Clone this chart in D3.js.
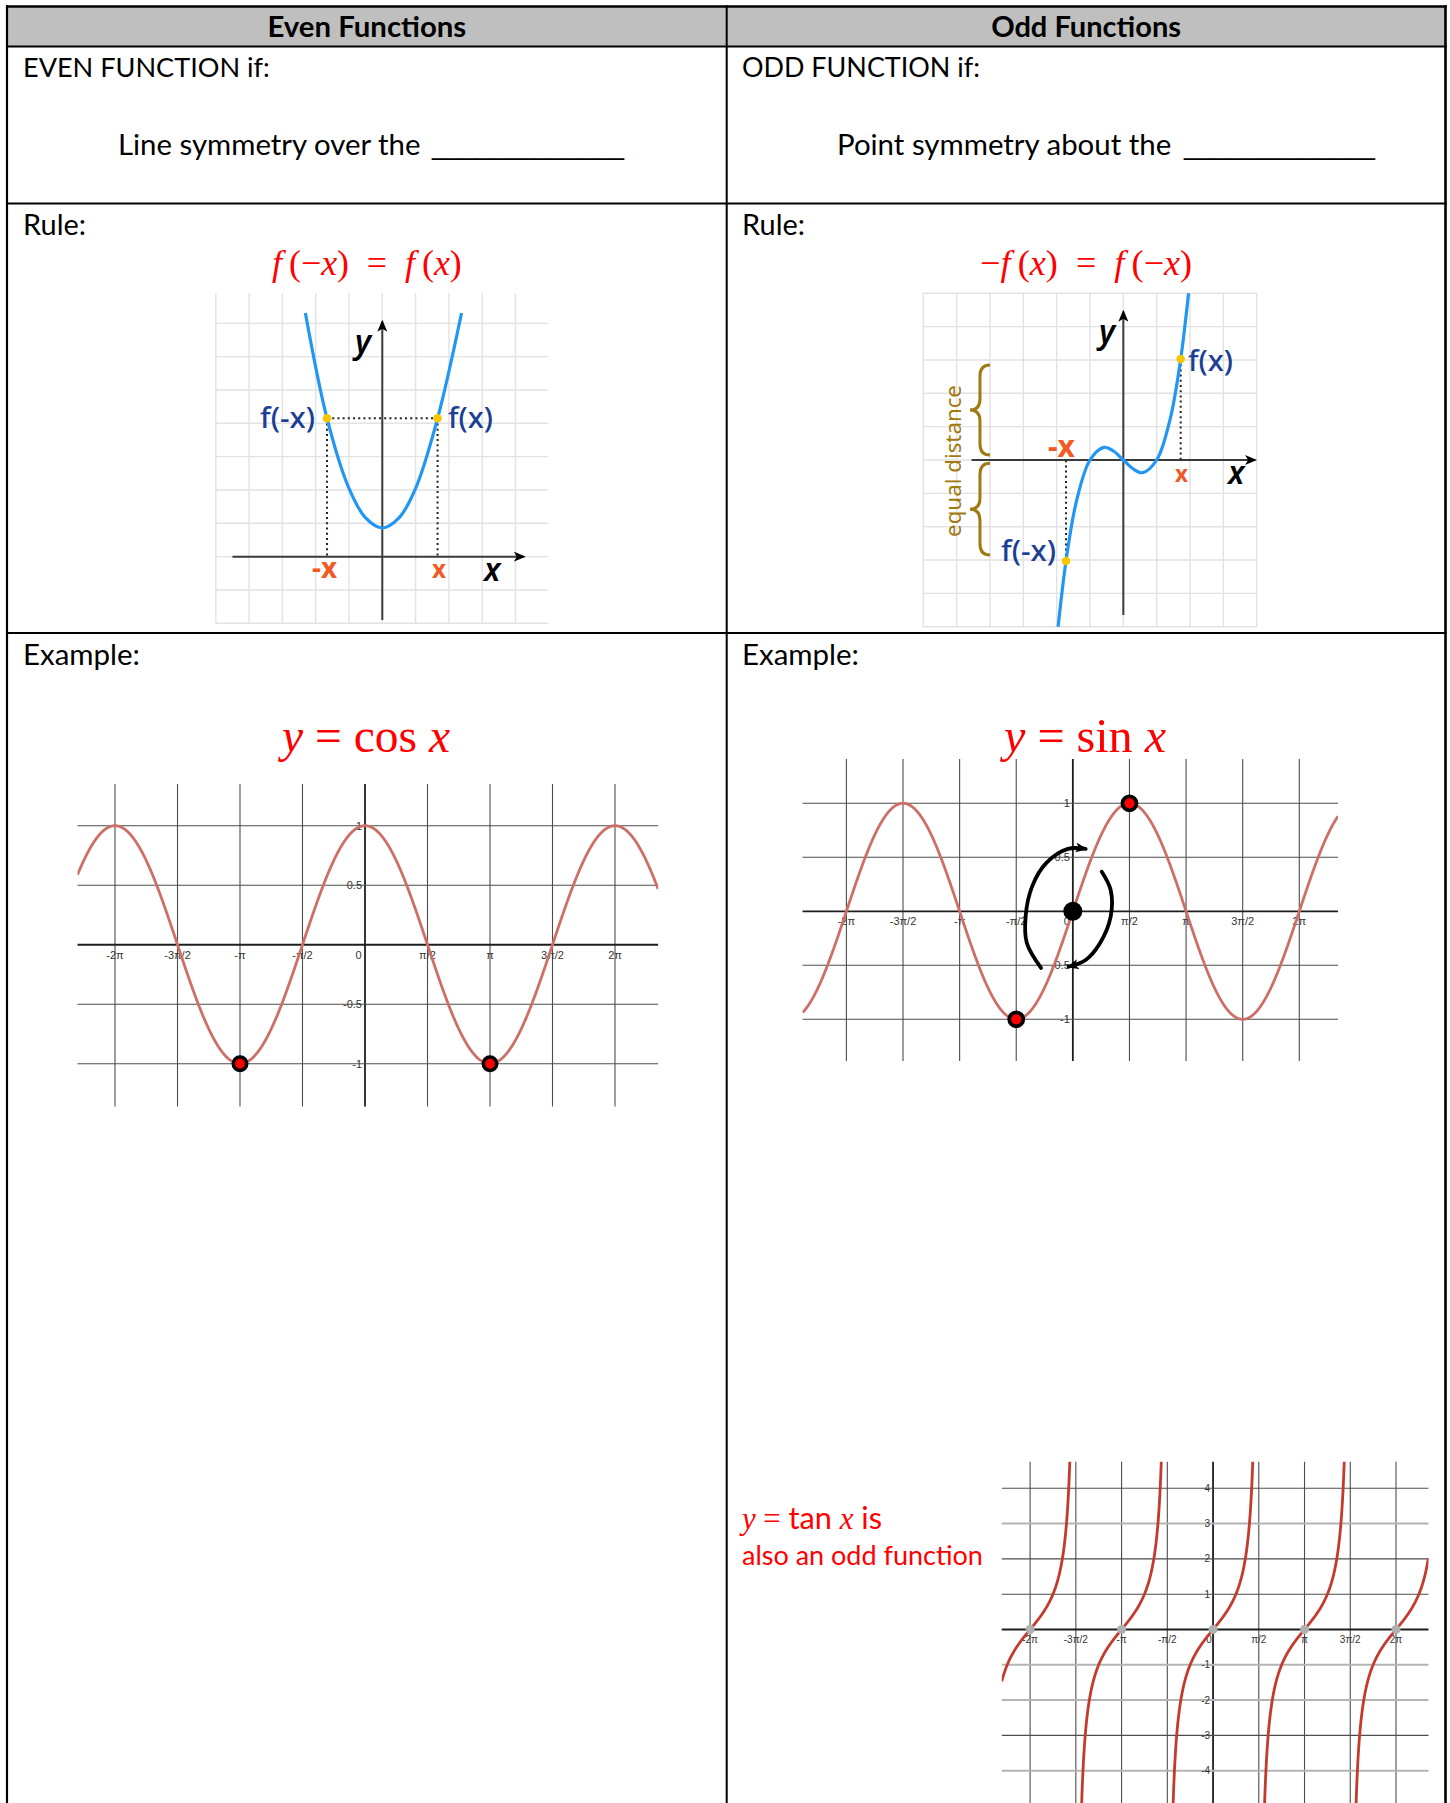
<!DOCTYPE html>
<html>
<head>
<meta charset="utf-8">
<script src="https://cdn.jsdelivr.net/npm/d3@7"></script>
<style>
  body { margin: 0; background: #fff; }
  svg { display: block; }
  text { white-space: pre; }
</style>
</head>
<body>
<div id="chart"></div>
<script>
// ---------- data ----------
const headers = ["Even Functions", "Odd Functions"];
const ifLines = ["EVEN FUNCTION if:", "ODD FUNCTION if:"];
const symmetryLines = ["Line symmetry over the ", "Point symmetry about the "];
const blank = "_____________";
const sectionLabels = ["Rule:", "Example:"];

// trig charts: x in units of π/2
const piTicks = [-4, -3, -2, -1, 0, 1, 2, 3, 4];
const piLabels = ["-2π", "-3π/2", "-π", "-π/2", "0", "π/2", "π", "3π/2", "2π"];
const halfTicks = [-1, -0.5, 0, 0.5, 1];
const halfLabels = ["-1", "-0.5", "0", "0.5", "1"];
const tanTicks = [-4, -3, -2, -1, 0, 1, 2, 3, 4];
const tanLabels = ["-4", "-3", "-2", "-1", "0", "1", "2", "3", "4"];
const tanFaint = [3, -1, -2, -4];
const tanZeros = [-4, -2, 0, 2, 4];
const cosMarks = [[-2, -1], [2, -1]];
const sinMarks = [[-1, -1], [1, 1]];
// rotation arrows round the origin of the sin chart
const spinLeft = [[-0.562, -0.524], [-0.813, -0.293], [-0.834, -0.046], [-0.719, 0.231], [-0.468, 0.448], [-0.088, 0.578], [0.226, 0.578]];
const spinRight = [[0.511, 0.367], [0.668, 0.197], [0.668, -0.05], [0.479, -0.296], [0.226, -0.451], [-0.076, -0.513]];

// rule sketches (grid units)
const parabola = [[-2.31, 7.31], [-1.66, 4.15], [-1, 2.05], [-0.5, 1.16], [0, 0.86], [0.5, 1.16], [1, 2.05], [1.66, 4.15], [2.38, 7.31]];
const parabolaMarks = [[-1.66, 4.15], [1.66, 4.15]];
const cubic = [[-2.05, -5.9], [-1.72, -3.03], [-1.4, -1.21], [-1, 0], [-0.58, 0.38], [-0.3, 0.27], [0, 0], [0.3, -0.27], [0.58, -0.38], [1, 0], [1.4, 1.21], [1.72, 3.03], [2.05, 5.9]];
const cubicMarks = [[-1.72, -3.03], [1.72, 3.03]];
const braces = [[0.15, 2.85], [-2.85, -0.1]];

// ---------- setup ----------
const W = 1450, H = 1803;
const bodyFont = "Lato, 'Open Sans', sans-serif";
const mathFont = "'Liberation Serif', 'DejaVu Serif', serif";
const sketchFont = "'Noto Sans', 'DejaVu Sans', sans-serif";
const tickFont = "'Liberation Sans', Arial, sans-serif";
const red = "#ff0000", navy = "#1c3f94", orange = "#f15a22", brown = "#a07a10";
const it = { "font-style": "italic" };
const thin = "\u2009";

const svg = d3.select("#chart").append("svg").attr("width", W).attr("height", H);
svg.append("rect").attr("width", W).attr("height", H).attr("fill", "#fff");

const defs = svg.append("defs");
defs.append("marker").attr("id", "arrow").attr("viewBox", "0 -5 12 10")
  .attr("refX", 10).attr("refY", 0).attr("markerWidth", 12).attr("markerHeight", 10)
  .attr("markerUnits", "userSpaceOnUse").attr("orient", "auto")
  .append("path").attr("d", "M0,-5L12,0L0,5L3,0Z").attr("fill", "#000");

// text helper: parts are [string, attrs]; optional fit to a width
function txt(parent, x, y, parts, o = {}) {
  const size = o.size || 28;
  const t = parent.append("text").attr("x", x).attr("y", y)
    .attr("font-family", o.family || bodyFont).attr("font-size", size)
    .attr("fill", o.fill || "#000").attr("text-anchor", o.anchor || "start");
  if (o.weight) t.attr("font-weight", o.weight);
  if (o.fstyle) t.attr("font-style", o.fstyle);
  if (o.transform) t.attr("transform", o.transform);
  parts.forEach(([s, st]) => {
    const ts = t.append("tspan").text(s);
    Object.entries(st || {}).forEach(([k, v]) => ts.attr(k, v));
  });
  if (o.width) {
    const len = t.node().getComputedTextLength();
    t.attr("font-size", size * o.width / len);
  }
  return t;
}

// ---------- table ----------
const tb = { left: 7, right: 1445.5, mid: 726.7, top: 6.5, head: 46.5, row1: 203.5, row2: 633 };
svg.append("rect").attr("x", tb.left).attr("y", tb.top)
  .attr("width", tb.right - tb.left).attr("height", tb.head - tb.top).attr("fill", "#bfbfbf");
const rules = svg.append("g").attr("stroke", "#000");
[[tb.top, 2.6], [tb.head, 2], [tb.row1, 2], [tb.row2, 2]].forEach(([y, w]) =>
  rules.append("line").attr("x1", tb.left - 1).attr("x2", tb.right + 1.2).attr("y1", y).attr("y2", y).attr("stroke-width", w));
[[tb.left, 2.2], [tb.mid, 2], [tb.right, 2.6]].forEach(([x, w]) =>
  rules.append("line").attr("x1", x).attr("x2", x).attr("y1", tb.top - 1.2).attr("y2", H).attr("stroke-width", w));

const colCenter = [(tb.left + tb.mid) / 2, (tb.mid + tb.right) / 2];
const colText = [23, 742];
const txtG = svg.append("g");

headers.forEach((h, i) => txt(txtG, colCenter[i], 37, [[h]], { weight: 700, anchor: "middle", width: [199, 190][i] }));
ifLines.forEach((s, i) => txt(txtG, colText[i], 77, [[s]], { width: [247, 238][i] }));
symmetryLines.forEach((s, i) => {
  txt(txtG, [118, 837][i], 155, [[s]], { width: [310, 342][i] });
  txt(txtG, [432, 1184][i], 155, [[blank]], { family: tickFont, size: 28, width: [192, 191][i] });
});
sectionLabels.forEach((s, r) => colText.forEach(x =>
  txt(txtG, x, [235, 665][r], [[s]], { width: [63, 117][r] })));

// rule formulas
txt(txtG, colCenter[0], 275, [["f", it], [thin + "(−"], ["x", it], [")  =  "], ["f", it], [thin + "("], ["x", it], [")"]],
  { family: mathFont, size: 30, fill: red, anchor: "middle", width: 190 });
txt(txtG, colCenter[1], 275, [["−"], ["f", it], [thin + "("], ["x", it], [")  =  "], ["f", it], [thin + "(−"], ["x", it], [")"]],
  { family: mathFont, size: 30, fill: red, anchor: "middle", width: 212 });

// example titles
txt(txtG, 366, 752, [["y", it], [" = cos "], ["x", it]], { family: mathFont, size: 44, fill: red, anchor: "middle", width: 168 });
txt(txtG, 1085, 752, [["y", it], [" = sin "], ["x", it]], { family: mathFont, size: 44, fill: red, anchor: "middle", width: 162 });
txt(txtG, 742, 1529, [["y", { "font-family": mathFont, "font-style": "italic" }], [" = ", { "font-family": mathFont }], ["tan "], ["x", { "font-family": mathFont, "font-style": "italic" }], [" is"]],
  { size: 27, fill: red, width: 140 });
txt(txtG, 742, 1565, [["also an odd function"]], { size: 27, fill: red, width: 241 });

// ---------- rule sketches ----------
function sketch(o) {
  const g = svg.append("g");
  const x = d3.scaleLinear().domain(o.xDomain).range(o.xRange);
  const y = d3.scaleLinear().domain(o.yDomain).range(o.yRange);
  const [ex0, ex1] = o.xExt, [ey0, ey1] = o.yExt;
  const clipId = o.id + "-clip";
  defs.append("clipPath").attr("id", clipId).append("rect")
    .attr("x", x(ex0)).attr("y", y(ey1)).attr("width", x(ex1) - x(ex0)).attr("height", y(ey0) - y(ey1));
  const grid = g.append("g").attr("stroke", "#e2e2e2").attr("stroke-width", 1.4);
  grid.selectAll("line.v").data(d3.range(Math.ceil(ex0), Math.floor(ex1) + 1)).join("line").attr("class", "v")
    .attr("x1", d => x(d)).attr("x2", d => x(d)).attr("y1", y(ey1)).attr("y2", y(ey0));
  grid.selectAll("line.h").data(d3.range(Math.ceil(ey0), Math.floor(ey1) + 1)).join("line").attr("class", "h")
    .attr("y1", d => y(d)).attr("y2", d => y(d)).attr("x1", x(ex0)).attr("x2", x(ex1));
  // axes
  const ax = g.append("g").attr("stroke", "#3a3a3a").attr("stroke-width", 2);
  ax.append("line").attr("x1", x(o.xAxis[0])).attr("x2", x(o.xAxis[1])).attr("y1", y(0)).attr("y2", y(0)).attr("marker-end", "url(#arrow)");
  ax.append("line").attr("x1", x(0)).attr("x2", x(0)).attr("y1", y(o.yAxis[0])).attr("y2", y(o.yAxis[1])).attr("marker-end", "url(#arrow)");
  return { g, x, y, clipId };
}

const line = (x, y) => d3.line().x(d => x(d[0])).y(d => y(d[1])).curve(d3.curveCatmullRom.alpha(0.5));
const axisLabel = { family: sketchFont, weight: 600, fstyle: "italic", size: 32 };

// even: parabola
{
  const { g, x, y, clipId } = sketch({ id: "even", xDomain: [-5, 5], xRange: [215.8, 548.8], yDomain: [-2, 8], yRange: [623.3, 290],
    xExt: [-5, 4.98], yExt: [-2, 7.9], xAxis: [-4.5, 4.25], yAxis: [-1.9, 7.05] });
  const dots = g.append("g").attr("stroke", "#222").attr("stroke-width", 2).attr("stroke-dasharray", "2,3.2");
  dots.append("line").attr("x1", x(parabolaMarks[0][0])).attr("x2", x(parabolaMarks[1][0]))
    .attr("y1", y(parabolaMarks[0][1])).attr("y2", y(parabolaMarks[0][1]));
  dots.selectAll("line.v").data(parabolaMarks).join("line").attr("class", "v")
    .attr("x1", d => x(d[0])).attr("x2", d => x(d[0])).attr("y1", d => y(d[1])).attr("y2", y(0));
  g.append("path").attr("clip-path", `url(#${clipId})`).attr("d", line(x, y)(parabola))
    .attr("fill", "none").attr("stroke", "#2196f3").attr("stroke-width", 3.2);
  g.selectAll("circle").data(parabolaMarks).join("circle")
    .attr("cx", d => x(d[0])).attr("cy", d => y(d[1])).attr("r", 4.3).attr("fill", "#f7c600");
  txt(g, 315, 428, [["f(-x)"]], { family: sketchFont, fill: navy, weight: 500, anchor: "end", width: 55 });
  txt(g, 448, 428, [["f(x)"]], { family: sketchFont, fill: navy, weight: 500, width: 45 });
  txt(g, 312, 578, [["-x"]], { family: sketchFont, fill: orange, weight: 700, width: 25 });
  txt(g, 432, 578, [["x"]], { family: sketchFont, fill: orange, weight: 700, width: 14 });
  txt(g, 355, 353, [["y"]], axisLabel);
  txt(g, 484, 581, [["x"]], axisLabel);
}

// odd: cubic
{
  const { g, x, y, clipId } = sketch({ id: "odd", xDomain: [-6, 4], xRange: [923.3, 1256.7], yDomain: [-5, 5], yRange: [626.7, 293.3],
    xExt: [-6, 4], yExt: [-5, 5], xAxis: [-4.55, 3.95], yAxis: [-4.65, 4.45] });
  const dots = g.append("g").attr("stroke", "#222").attr("stroke-width", 2).attr("stroke-dasharray", "2,3.2");
  dots.selectAll("line").data(cubicMarks).join("line")
    .attr("x1", d => x(d[0])).attr("x2", d => x(d[0])).attr("y1", d => y(d[1])).attr("y2", y(0));
  g.append("path").attr("clip-path", `url(#${clipId})`).attr("d", line(x, y)(cubic))
    .attr("fill", "none").attr("stroke", "#2196f3").attr("stroke-width", 3.2);
  g.selectAll("circle").data(cubicMarks).join("circle")
    .attr("cx", d => x(d[0])).attr("cy", d => y(d[1])).attr("r", 4.3).attr("fill", "#f7c600");
  // braces
  const xTip = x(-4.6), xEnd = x(-4.0), xm = (xTip + xEnd) / 2;
  braces.forEach(([b0, b1]) => {
    const yTop = y(b1), yBot = y(b0), ym = (yTop + yBot) / 2, p = d3.path();
    p.moveTo(xEnd, yTop);
    p.quadraticCurveTo(xm, yTop, xm, yTop + 11);
    p.lineTo(xm, ym - 11);
    p.quadraticCurveTo(xm, ym, xTip, ym);
    p.quadraticCurveTo(xm, ym, xm, ym + 11);
    p.lineTo(xm, yBot - 11);
    p.quadraticCurveTo(xm, yBot, xEnd, yBot);
    g.append("path").attr("d", p.toString()).attr("fill", "none").attr("stroke", brown).attr("stroke-width", 3);
  });
  txt(g, 0, 0, [["equal distance"]], { family: sketchFont, fill: brown, anchor: "middle", width: 152, transform: "translate(961,461) rotate(-90)" });
  txt(g, 1188, 371, [["f(x)"]], { family: sketchFont, fill: navy, weight: 500, width: 45 });
  txt(g, 1056, 561, [["f(-x)"]], { family: sketchFont, fill: navy, weight: 500, anchor: "end", width: 55 });
  txt(g, 1048, 457, [["-x"]], { family: sketchFont, fill: orange, weight: 700, width: 27 });
  txt(g, 1175, 482, [["x"]], { family: sketchFont, fill: orange, weight: 700, width: 13 });
  txt(g, 1099, 343, [["y"]], axisLabel);
  txt(g, 1228, 484, [["x"]], axisLabel);
}

// ---------- trig examples ----------
function trig(o) {
  const g = svg.append("g");
  const x = d3.scaleLinear().domain([-4, 4]).range(o.xRange);
  const y = d3.scaleLinear().domain(o.yDomain).range(o.yRange);
  const [ex0, ex1] = o.xExt, [ey0, ey1] = o.yExt;
  const clipId = o.id + "-clip";
  defs.append("clipPath").attr("id", clipId).append("rect")
    .attr("x", x(ex0)).attr("y", y(ey1)).attr("width", x(ex1) - x(ex0)).attr("height", y(ey0) - y(ey1));
  g.selectAll("line.v").data(piTicks).join("line").attr("class", "v")
    .attr("x1", d => x(d)).attr("x2", d => x(d)).attr("y1", y(ey1)).attr("y2", y(ey0))
    .attr("stroke", d => d === 0 ? "#1e1e1e" : "#4d4d4d").attr("stroke-width", d => d === 0 ? 1.8 : 1.1);
  g.selectAll("line.h").data(o.hLines).join("line").attr("class", "h")
    .attr("y1", d => y(d)).attr("y2", d => y(d)).attr("x1", x(ex0)).attr("x2", x(ex1))
    .attr("stroke", d => d === 0 ? "#1e1e1e" : (o.faint || []).includes(d) ? "#b4b4b4" : "#4d4d4d")
    .attr("stroke-width", d => d === 0 ? 1.8 : (o.faint || []).includes(d) ? 2 : 1.1);
  const tk = g.append("g").attr("font-family", tickFont).attr("font-size", o.tickSize).attr("fill", "#333");
  tk.selectAll("text.x").data(piTicks).join("text").attr("class", "x")
    .attr("x", d => x(d) + (d === 0 ? o.zeroShift : 0)).attr("y", y(0) + o.tickSize + 3)
    .attr("text-anchor", "middle").text((d, i) => piLabels[i]);
  tk.selectAll("text.y").data(o.yTicks.filter(d => d !== 0)).join("text").attr("class", "y")
    .attr("x", x(0) - 3).attr("y", d => y(d)).attr("dy", "0.35em")
    .attr("text-anchor", "end").text(d => o.yLabels[o.yTicks.indexOf(d)]);
  const pts = [];
  o.pieces.forEach(([a, b]) => pts.push(d3.range(a, b + 1e-9, 0.005).map(v => [v, o.fn(v * Math.PI / 2)])));
  const ln = d3.line().x(d => x(d[0])).y(d => y(d[1]));
  g.append("g").attr("clip-path", `url(#${clipId})`).selectAll("path").data(pts).join("path")
    .attr("d", ln).attr("fill", "none").attr("stroke", o.color).attr("stroke-width", o.width);
  return { g, x, y };
}

{
  const { g, x, y } = trig({ id: "cos", xRange: [115, 615], yDomain: [-1, 1], yRange: [1063.75, 825.7],
    xExt: [-4.6, 4.69], yExt: [-1.36, 1.35], hLines: halfTicks, yTicks: halfTicks, yLabels: halfLabels, tickSize: 11, zeroShift: -6.5,
    pieces: [[-4.6, 4.69]], fn: Math.cos, color: "#cd6f67", width: 2.8 });
  g.selectAll("circle").data(cosMarks).join("circle")
    .attr("cx", d => x(d[0])).attr("cy", d => y(d[1])).attr("r", 6.7)
    .attr("fill", red).attr("stroke", "#000").attr("stroke-width", 3.6);
}

{
  const { g, x, y } = trig({ id: "sin", xRange: [846.4, 1299.3], yDomain: [-1, 1], yRange: [1019.3, 803.3],
    xExt: [-4.775, 4.685], yExt: [-1.386, 1.41], hLines: halfTicks, yTicks: halfTicks, yLabels: halfLabels, tickSize: 11, zeroShift: -6,
    pieces: [[-4.775, 4.685]], fn: Math.sin, color: "#cd6f67", width: 2.8 });
  g.selectAll("circle.m").data(sinMarks).join("circle").attr("class", "m")
    .attr("cx", d => x(d[0])).attr("cy", d => y(d[1])).attr("r", 7)
    .attr("fill", red).attr("stroke", "#000").attr("stroke-width", 3.8);
  g.append("circle").attr("cx", x(0)).attr("cy", y(0)).attr("r", 9.5).attr("fill", "#000");
  const sp = d3.line().x(d => x(d[0])).y(d => y(d[1])).curve(d3.curveCatmullRom.alpha(0.5));
  g.selectAll("path.spin").data([spinLeft, spinRight]).join("path").attr("class", "spin")
    .attr("d", sp).attr("fill", "none").attr("stroke", "#000").attr("stroke-width", 3.8)
    .attr("stroke-linecap", "round").attr("marker-end", "url(#arrow)");
}

{
  const branches = d3.range(-2, 3).map(k => [Math.max(2 * k - 0.999, -4.62), Math.min(2 * k + 0.999, 4.71)]);
  const { g, x, y } = trig({ id: "tan", xRange: [1030.1, 1396], yDomain: [-4, 4], yRange: [1770.7, 1488.3],
    xExt: [-4.62, 4.71], yExt: [-4.95, 4.75], hLines: [-5, ...tanTicks], yTicks: tanTicks, yLabels: tanLabels, faint: tanFaint,
    tickSize: 10, zeroShift: -4, pieces: branches, fn: Math.tan, color: "#c33a2e", width: 2.8 });
  g.selectAll("circle").data(tanZeros).join("circle")
    .attr("cx", d => x(d)).attr("cy", y(0)).attr("r", 4.5).attr("fill", "#b0b0b0");
}
</script>
</body>
</html>
